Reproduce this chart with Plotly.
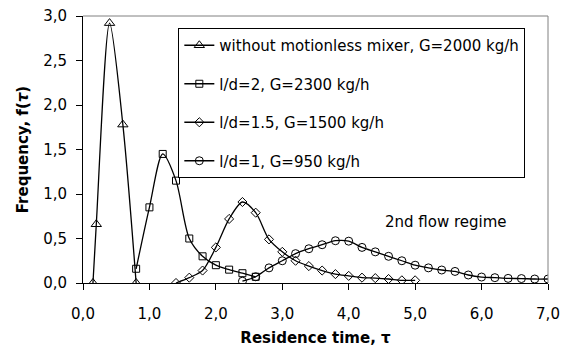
import plotly.graph_objects as go

# Residence time distributions
tri_x = [0.15, 0.2, 0.4, 0.6, 0.8]
tri_y = [0.0, 0.66, 2.92, 1.78, 0.0]

sq_x = [0.8, 1.0, 1.2, 1.4, 1.6, 1.8, 2.0, 2.2, 2.4, 2.6]
sq_y = [0.16, 0.85, 1.45, 1.15, 0.50, 0.30, 0.20, 0.15, 0.11, 0.07]

dia_x = [1.4, 1.6, 1.8, 2.0, 2.2, 2.4, 2.6, 2.8, 3.0, 3.2, 3.4, 3.6, 3.8, 4.0,
         4.2, 4.4, 4.6, 4.8, 5.0]
dia_y = [0.0, 0.06, 0.14, 0.40, 0.72, 0.91, 0.79, 0.49, 0.35, 0.25, 0.19, 0.14,
         0.10, 0.08, 0.06, 0.055, 0.045, 0.03, 0.03]

cir_x = [2.4, 2.6, 2.8, 3.0, 3.2, 3.4, 3.6, 3.8, 4.0, 4.2, 4.4, 4.6, 4.8, 5.0,
         5.2, 5.4, 5.6, 5.8, 6.0, 6.2, 6.4, 6.6, 6.8, 7.0]
cir_y = [0.02, 0.07, 0.17, 0.25, 0.33, 0.385, 0.43, 0.475, 0.47, 0.40, 0.35,
         0.30, 0.25, 0.20, 0.17, 0.146, 0.13, 0.09, 0.067, 0.06, 0.052, 0.05,
         0.045, 0.045]

names = ["without motionless mixer, G=2000 kg/h",
         "l/d=2, G=2300 kg/h",
         "l/d=1.5, G=1500 kg/h",
         "l/d=1, G=950 kg/h"]

x_ticks = [0, 1, 2, 3, 4, 5, 6, 7]
x_labels = ["0,0", "1,0", "2,0", "3,0", "4,0", "5,0", "6,0", "7,0"]
y_ticks = [0, 0.5, 1.0, 1.5, 2.0, 2.5, 3.0]
y_labels = ["0,0", "0,5", "1,0", "1,5", "2,0", "2,5", "3,0"]

FONT = "DejaVu Sans, Arial, sans-serif"

series = [
    (tri_x, tri_y, "triangle-up-open", 9),
    (sq_x, sq_y, "square-open", 7),
    (dia_x, dia_y, "diamond-open", 7),
    (cir_x, cir_y, "circle-open", 8),
]

fig = go.Figure()
for i, ((xs, ys, sym, sz), nm) in enumerate(zip(series, names)):
    fig.add_trace(go.Scatter(
        x=xs, y=ys, name=nm, mode="lines+markers",
        line=dict(color="black", width=1.3, shape="spline", smoothing=0.8),
        marker=dict(symbol=sym, size=sz, color="black",
                    line=dict(color="black", width=1)),
        legendgroup=str(i),
    ))

fig.add_annotation(x=5.46, y=0.69, text="2nd flow regime", showarrow=False,
                   font=dict(size=15, color="black", family=FONT))

# plot-area frame (top and right edges)
fig.add_shape(type="line", xref="paper", yref="paper", x0=0, x1=1, y0=1, y1=1,
              line=dict(color="#808080", width=1))
fig.add_shape(type="line", xref="paper", yref="paper", x0=1, x1=1, y0=0, y1=1,
              line=dict(color="#808080", width=1))

fig.update_layout(
    width=563, height=349,
    margin=dict(l=83, r=15, t=16, b=66),
    paper_bgcolor="white", plot_bgcolor="white",
    font=dict(family=FONT, color="black", size=14),
    legend=dict(x=0.205, y=0.955, xanchor="left", yanchor="top",
                bordercolor="black", borderwidth=1, bgcolor="white",
                font=dict(size=15, family=FONT), tracegroupgap=16,
                itemwidth=30),
    xaxis=dict(range=[0, 7], tickvals=x_ticks, ticktext=x_labels,
               showgrid=False, zeroline=False, showline=True,
               linecolor="black", linewidth=1, ticks="outside", ticklen=6,
               tickcolor="black", tickfont=dict(size=15),
               ticklabelstandoff=11, automargin=False,
               title=dict(text="<b>Residence time, τ</b>", font=dict(size=15),
                          standoff=10)),
    yaxis=dict(range=[0, 3], tickvals=y_ticks, ticktext=y_labels,
               showgrid=False, zeroline=False, showline=True,
               linecolor="black", linewidth=1, ticks="outside", ticklen=6,
               tickcolor="black", tickfont=dict(size=15),
               ticklabelstandoff=6, automargin=False,
               title=dict(text="<b>Frequency, f(<i>τ</i>)</b>",
                          font=dict(size=15), standoff=10)),
)

fig.write_html("out.html")
